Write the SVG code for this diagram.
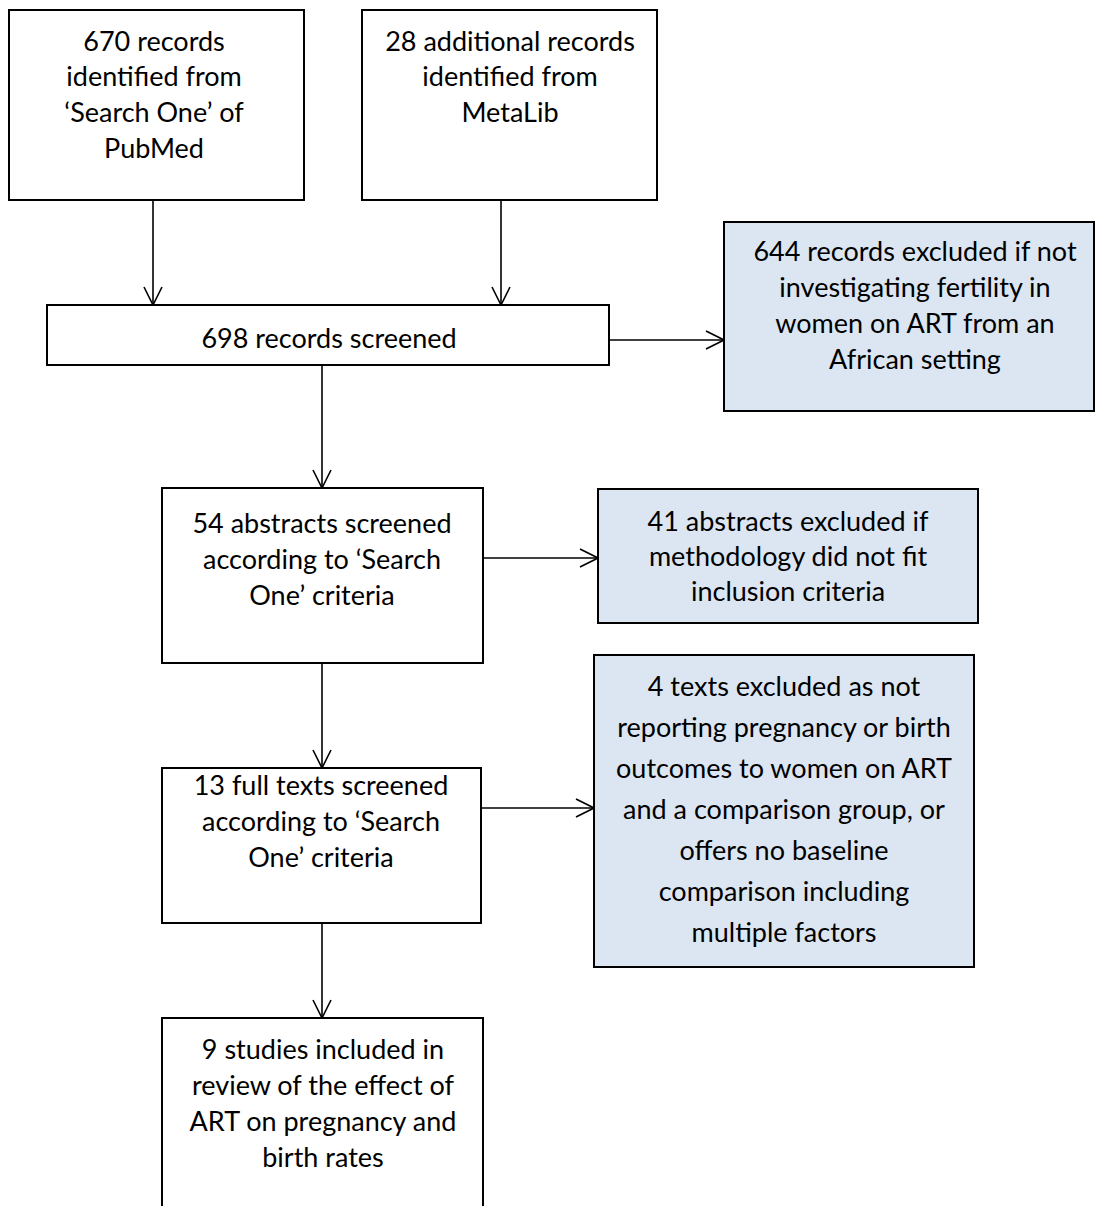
<svg xmlns="http://www.w3.org/2000/svg" width="1095" height="1206" viewBox="0 0 1095 1206">
<defs>
<marker id="arr" viewBox="0 0 20 20" refX="19" refY="10" markerWidth="20" markerHeight="20" markerUnits="userSpaceOnUse" orient="auto">
<polyline points="1,1 19,10 1,19" fill="none" stroke="#000" stroke-width="1.6"/>
</marker>
<style>
.box{fill:#fff;stroke:#000;stroke-width:2}
.ex{fill:#dce6f2;stroke:#000;stroke-width:2}
.t{font-family:Lato,"Open Sans","Liberation Sans",sans-serif;font-size:27px;fill:#000;text-anchor:middle;dominant-baseline:central}
.c{stroke:#000;stroke-width:1.6;fill:none}
</style>
</defs>
<rect width="1095" height="1206" fill="#fff"/>
<g id="connectors">
<line class="c" x1="153" y1="200" x2="153" y2="305" marker-end="url(#arr)"/>
<line class="c" x1="501" y1="200" x2="501" y2="305" marker-end="url(#arr)"/>
<line class="c" x1="609" y1="340" x2="724" y2="340" marker-end="url(#arr)"/>
<line class="c" x1="322" y1="365" x2="322" y2="488" marker-end="url(#arr)"/>
<line class="c" x1="483" y1="558" x2="598" y2="558" marker-end="url(#arr)"/>
<line class="c" x1="322" y1="663" x2="322" y2="768" marker-end="url(#arr)"/>
<line class="c" x1="481" y1="808" x2="594" y2="808" marker-end="url(#arr)"/>
<line class="c" x1="322" y1="923" x2="322" y2="1018" marker-end="url(#arr)"/>
</g>
<g id="n1">
<rect class="box" x="9" y="10" width="295" height="190"/>
<text class="t" x="154" y="40">670 records</text>
<text class="t" x="154" y="75">identified from</text>
<text class="t" x="154" y="111">‘Search One’ of</text>
<text class="t" x="154" y="147">PubMed</text>
</g>
<g id="n2">
<rect class="box" x="362" y="10" width="295" height="190"/>
<text class="t" x="510" y="40">28 additional records</text>
<text class="t" x="510" y="75">identified from</text>
<text class="t" x="510" y="111">MetaLib</text>
</g>
<g id="n3">
<rect class="box" x="47" y="305" width="562" height="60"/>
<text class="t" x="329" y="337">698 records screened</text>
</g>
<g id="n4">
<rect class="ex" x="724" y="222" width="370" height="189"/>
<text class="t" x="915" y="250">644 records excluded if not</text>
<text class="t" x="915" y="286">investigating fertility in</text>
<text class="t" x="915" y="322">women on ART from an</text>
<text class="t" x="915" y="358">African setting</text>
</g>
<g id="n5">
<rect class="box" x="162" y="488" width="321" height="175"/>
<text class="t" x="322" y="522">54 abstracts screened</text>
<text class="t" x="322" y="558">according to ‘Search</text>
<text class="t" x="322" y="594">One’ criteria</text>
</g>
<g id="n6">
<rect class="ex" x="598" y="489" width="380" height="134"/>
<text class="t" x="788" y="520">41 abstracts excluded if</text>
<text class="t" x="788" y="555">methodology did not fit</text>
<text class="t" x="788" y="590">inclusion criteria</text>
</g>
<g id="n7">
<rect class="box" x="162" y="768" width="319" height="155"/>
<text class="t" x="321" y="784">13 full texts screened</text>
<text class="t" x="321" y="820">according to ‘Search</text>
<text class="t" x="321" y="856">One’ criteria</text>
</g>
<g id="n8">
<rect class="ex" x="594" y="655" width="380" height="312"/>
<text class="t" x="784" y="685">4 texts excluded as not</text>
<text class="t" x="784" y="726">reporting pregnancy or birth</text>
<text class="t" x="784" y="767">outcomes to women on ART</text>
<text class="t" x="784" y="808">and a comparison group, or</text>
<text class="t" x="784" y="849">offers no baseline</text>
<text class="t" x="784" y="890">comparison including</text>
<text class="t" x="784" y="931">multiple factors</text>
</g>
<g id="n9">
<rect class="box" x="162" y="1018" width="321" height="200"/>
<text class="t" x="323" y="1048">9 studies included in</text>
<text class="t" x="323" y="1084">review of the effect of</text>
<text class="t" x="323" y="1120">ART on pregnancy and</text>
<text class="t" x="323" y="1156">birth rates</text>
</g>
</svg>
